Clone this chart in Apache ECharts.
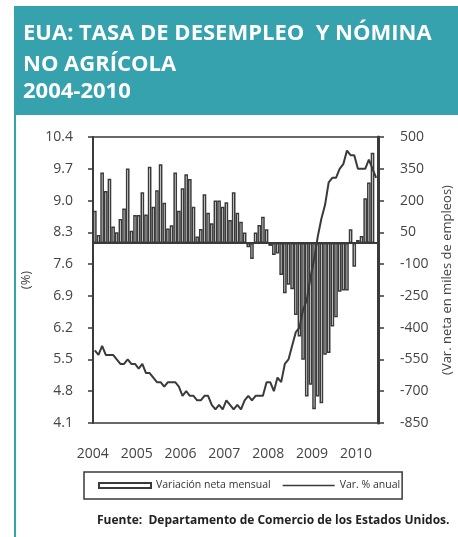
<!DOCTYPE html>
<html>
<head>
<meta charset="utf-8">
<script src="https://cdn.jsdelivr.net/npm/echarts@6/dist/echarts.min.js"></script>
<style>
  html, body { margin: 0; padding: 0; background: #fff; }
  #chart { width: 458px; height: 537px; }
</style>
</head>
<body>
<div id="chart"></div>
<script>
// data, monthly, Jan 2004 - Jun 2010
const years = [2004, 2005, 2006, 2007, 2008, 2009, 2010];
const payroll2004 = [152, 38, 332, 245, 303, 77, 50, 113, 162, 351, 58, 132];
const payroll2005 = [132, 239, 134, 360, 171, 249, 371, 190, 68, 84, 332, 152];
const payroll2006 = [258, 324, 302, 171, 30, 66, 230, 143, 93, 200, 200, 171];
const payroll2007 = [192, 108, 239, 143, 100, 49, -20, -76, 49, 85, 124, 64];
const payroll2008 = [-14, -57, -50, -151, -238, -198, -219, -340, -442, -552, -725, -670];
const payroll2009 = [-785, -725, -757, -528, -520, -395, -351, -230, -225, -224, 64, -112];
const payroll2010 = [14, 33, 211, 285, 426, null];

const rate2004 = [5.7, 5.6, 5.8, 5.6, 5.6, 5.6, 5.5, 5.4, 5.4, 5.5, 5.4, 5.4];
const rate2005 = [5.3, 5.4, 5.2, 5.2, 5.1, 5.0, 5.0, 4.9, 5.0, 5.0, 5.0, 4.9];
const rate2006 = [4.7, 4.8, 4.7, 4.7, 4.6, 4.6, 4.7, 4.7, 4.5, 4.4, 4.5, 4.4];
const rate2007 = [4.6, 4.5, 4.4, 4.5, 4.4, 4.6, 4.7, 4.6, 4.7, 4.7, 4.7, 5.0];
const rate2008 = [5.0, 4.8, 5.1, 5.0, 5.4, 5.5, 5.8, 6.1, 6.2, 6.6, 6.8, 7.3];
const rate2009 = [7.7, 8.2, 8.6, 8.9, 9.4, 9.5, 9.5, 9.7, 9.8, 10.1, 10.0, 10.0];
const rate2010 = [9.7, 9.7, 9.7, 9.9, 9.7, 9.5];

const leftTicks = [4.1, 4.8, 5.5, 6.2, 6.9, 7.6, 8.3, 9.0, 9.7, 10.4];
const rightTicks = [-850, -700, -550, -400, -250, -100, 50, 200, 350, 500];

const payroll = [].concat(payroll2004, payroll2005, payroll2006, payroll2007, payroll2008, payroll2009, payroll2010);
const rate = [].concat(rate2004, rate2005, rate2006, rate2007, rate2008, rate2009, rate2010);

let months = [];
years.forEach(y => {
  for (let m = 1; m <= 12; m++) {
    if (months.length < rate.length) months.push(y + '-' + (m < 10 ? '0' + m : m));
  }
});

const teal = '#35a2ae';
const ink = '#3a3a3a';
const font = 'Open Sans';
const titleFont = 'bold 22px "Open Sans"';

let chart = echarts.init(document.getElementById('chart'), null, { renderer: 'canvas' });

let option = {
  backgroundColor: '#fff',
  animation: false,
  textStyle: { fontFamily: font },
  grid: {
    left: 93, right: 80, top: 137, bottom: 114,
    show: true, borderColor: ink, borderWidth: 1.5,
    outerBoundsMode: 'none'
  },
  graphic: [
    { type: 'rect', left: 14, top: 6, shape: { width: 444, height: 109 }, style: { fill: teal } },
    { type: 'rect', left: 14, top: 115, shape: { width: 2, height: 422 }, style: { fill: teal } },
    { type: 'text', left: 23, top: 23, style: { text: 'EUA: TASA DE DESEMPLEO  Y NÓMINA', fill: '#fff', font: titleFont } },
    { type: 'text', left: 23, top: 54, style: { text: 'NO AGRÍCOLA', fill: '#fff', font: titleFont } },
    { type: 'text', left: 23, top: 81, style: { text: '2004-2010', fill: '#fff', font: titleFont } },
    { type: 'text', left: 97, top: 515, style: { text: 'Fuente:  Departamento de Comercio de los Estados Unidos.', fill: '#222', font: 'bold 12px "Open Sans"' } }
  ],
  legend: {
    left: 84, top: 472,
    padding: [8, 2, 8, 14],
    borderColor: ink, borderWidth: 1.5,
    itemWidth: 52, itemHeight: 5, itemGap: 12,
    textStyle: { fontFamily: font, fontSize: 10.5, color: '#333' },
    data: [
      { name: 'Variación neta mensual', icon: 'rect' },
      { name: 'Var. % anual', icon: 'path://M0,0 L52,0 L52,1.6 L0,1.6 Z', itemStyle: { color: ink, borderWidth: 0 } }
    ]
  },
  xAxis: {
    type: 'category',
    data: months,
    boundaryGap: true,
    axisLine: { lineStyle: { color: ink, width: 2 } },
    axisTick: {
      length: 4, lineStyle: { color: ink, width: 1.5 },
      interval: (i) => i % 12 === 0
    },
    axisLabel: {
      interval: (i) => i % 12 === 0,
      formatter: (v) => v.slice(0, 4),
      color: '#444', fontSize: 14, margin: 24, padding: [0, 4, 0, 0]
    },
    splitLine: { show: false }
  },
  yAxis: [
    {
      type: 'value', position: 'left',
      min: 4.1, max: 10.4,
      name: '(%)', nameLocation: 'middle', nameGap: 60, nameRotate: 90,
      nameTextStyle: { color: '#444', fontSize: 13 },
      axisLine: { show: true, lineStyle: { color: ink, width: 2 } },
      axisTick: { show: true, length: 5, lineStyle: { color: ink, width: 1.5 }, customValues: leftTicks },
      axisLabel: { color: '#444', fontSize: 14, margin: 20, customValues: leftTicks, formatter: (v) => v.toFixed(1) },
      splitLine: { show: false }
    },
    {
      type: 'value', position: 'right',
      min: -850, max: 500,
      name: '(Var. neta en miles de empleos)', nameLocation: 'middle', nameGap: 63, nameRotate: 90,
      nameTextStyle: { color: '#444', fontSize: 13 },
      axisLine: { show: true, onZero: false, lineStyle: { color: ink, width: 3 } },
      axisTick: { show: true, length: 6, lineStyle: { color: ink, width: 1.5 }, customValues: rightTicks },
      axisLabel: { color: '#444', fontSize: 14, margin: 22, customValues: rightTicks },
      splitLine: { show: false }
    }
  ],
  series: [
    {
      name: 'Variación neta mensual',
      type: 'bar',
      yAxisIndex: 1,
      data: payroll,
      barCategoryGap: '0%',
      itemStyle: { color: '#fff', borderColor: ink, borderWidth: 1.5 },
      z: 2
    },
    {
      name: 'Var. % anual',
      type: 'line',
      yAxisIndex: 0,
      data: rate,
      symbol: 'none',
      lineStyle: { color: ink, width: 2 },
      itemStyle: { color: ink },
      z: 3
    }
  ]
};

chart.setOption(option);
</script>
</body>
</html>
